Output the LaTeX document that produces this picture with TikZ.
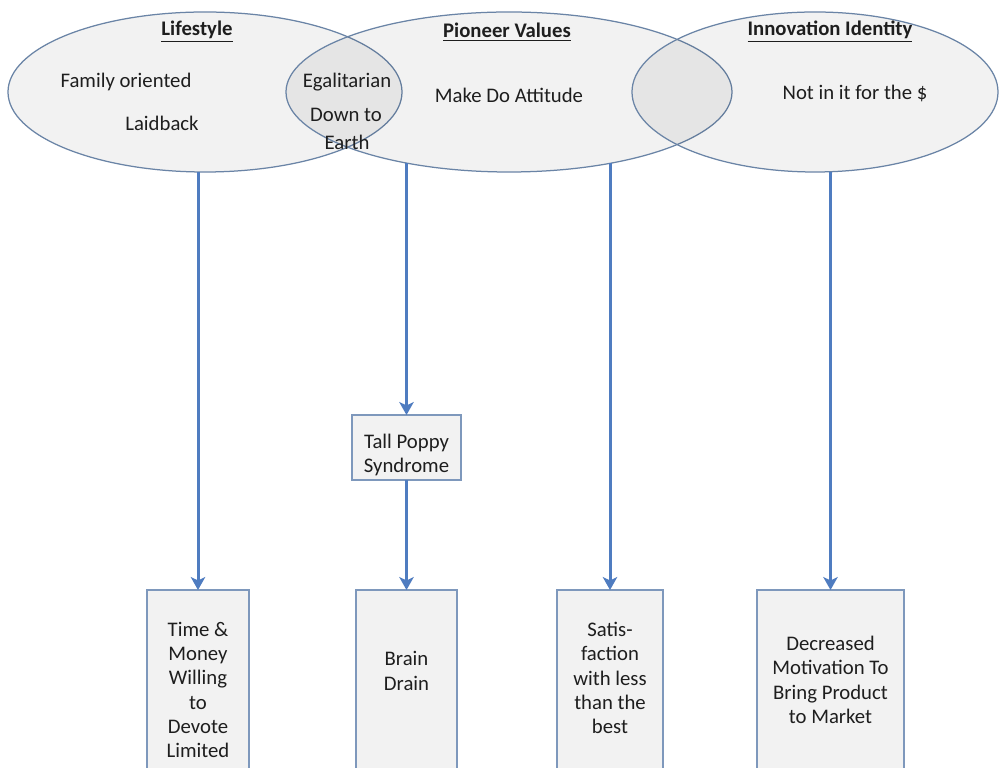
\documentclass[tikz,border=0pt]{standalone}
\usepackage{fontspec}
\setmainfont{Carlito}
\usetikzlibrary{arrows.meta,shapes.geometric}
\definecolor{rimblue}{HTML}{6A84A6}
\definecolor{arrowblue}{HTML}{4F7CC0}
\definecolor{boxfill}{HTML}{F2F2F2}
\definecolor{boxrim}{HTML}{7E98BC}
\definecolor{ink}{HTML}{1E1E1E}
\begin{document}
\begin{tikzpicture}[
  x=0.2mm, y=-0.2mm,
  every node/.style={font=\fontsize{11.8pt}{13.8pt}\selectfont, text=ink},
  circle set/.style={ellipse, draw=rimblue, line width=0.25mm,
    fill=black, fill opacity=0.05, text opacity=1, inner sep=0pt, outer sep=0pt},
  head/.style={font=\bfseries\fontsize{11.8pt}{13.8pt}\selectfont},
  txt/.style={align=center, inner sep=0pt},
  effectbox/.style={draw=boxrim, line width=0.3mm, fill=boxfill,
    anchor=north, inner sep=0pt, outer sep=0pt},
  flow/.style={draw=arrowblue, line width=0.6mm,
    -{Stealth[length=2.6mm, width=2.9mm, inset=0.7mm]}}
]
\useasboundingbox (0,0) rectangle (1000,768);
\clip (0,0) rectangle (1000,768);
\fill[white] (0,0) rectangle (1000,768);

% three overlapping value circles
\node[circle set, minimum width=78.8mm, minimum height=32mm] (life)  at (205,92) {};
\node[circle set, minimum width=89.2mm, minimum height=32mm] (pion)  at (509,92) {};
\node[circle set, minimum width=73.2mm, minimum height=32mm] (innov) at (815,92) {};

% headings
\node[head] (hlife)  at (197,32) {\underline{Lifestyle}};
\node[head] (hpion)  at (507,32) {\underline{Pioneer Values}};
\node[head] (hinnov) at (830,32) {\underline{Innovation Identity}};

% traits inside the circles
\node[txt] (fam)   at (126,82)  {Family oriented};
\node[txt] (laid)  at (162,123) {Laidback};
\node[txt] (egal)  at (347,82)  {Egalitarian};
\node[txt] (down)  at (346,115) {Down to};
\node[txt] (earth) at (347,142) {Earth};
\node[txt] (make)  at (509,95)  {Make Do Attitude};
\node[txt] (money) at (855,93)  {Not in it for the \$};

% intermediate box
\node[effectbox, minimum width=21.8mm, minimum height=13mm] (poppy) at (406.5,415) {};
\node[txt] (tpop) at (406.5,455) {Tall Poppy\\Syndrome};

% outcome boxes (running off the lower edge)
\node[effectbox, minimum width=20.4mm, minimum height=40mm] (b1) at (198,590)   {};
\node[effectbox, minimum width=20.2mm, minimum height=40mm] (b2) at (406.5,590) {};
\node[effectbox, minimum width=21.2mm, minimum height=40mm] (b3) at (610,590)   {};
\node[effectbox, minimum width=29.4mm, minimum height=40mm] (b4) at (830.5,590) {};

\node[txt] (t1) at (198,690)   {Time \&\\Money\\Willing\\to\\Devote\\Limited};
\node[txt] (t2) at (406.5,671) {Brain\\Drain};
\node[txt] (t3) at (610,678)   {Satis-\\faction\\with less\\than the\\best};
\node[txt] (t4) at (830.5,680) {Decreased\\Motivation To\\Bring Product\\to Market};

% connectors
\draw[flow] (b1.north |- life.south) -- (b1.north);
\draw[flow] (poppy.north |- pion.215) -- (poppy.north);
\draw[flow] (poppy.south) -- (b2.north);
\draw[flow] (b3.north |- pion.325) -- (b3.north);
\draw[flow] (b4.north |- innov.south) -- (b4.north);
\end{tikzpicture}
\end{document}
